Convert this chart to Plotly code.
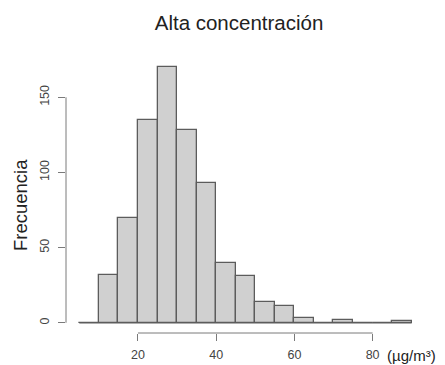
import plotly.graph_objects as go

# Histogram of concentration values (bin edges every 5 µg/m³)
bin_edges = [5, 10, 15, 20, 25, 30, 35, 40, 45, 50, 55, 60, 65, 70, 75, 80, 85, 90]
counts = [0, 32, 70, 135, 170, 128, 93, 40, 31, 14, 11, 3, 0, 2, 0, 0, 1]
x_ticks = [20, 40, 60, 80]
y_ticks = [0, 50, 100, 150]
title_text = "Alta concentración"
y_label = "Frecuencia"
unit_label = "(µg/m³)"

centers = [(a + b) / 2 for a, b in zip(bin_edges[:-1], bin_edges[1:])]
widths = [b - a for a, b in zip(bin_edges[:-1], bin_edges[1:])]

FONT = "Liberation Sans, Arial, sans-serif"
AXIS_COL = "#7a7a7a"
BAR_FILL = "#d0d0d0"
BAR_EDGE = "#5c5c5c"

fig = go.Figure()

# baseline under all bins (empty bins show as a flat line)
fig.add_trace(go.Scatter(
    x=[bin_edges[0], bin_edges[-1]], y=[0, 0], mode="lines",
    line=dict(color=BAR_EDGE, width=1.3), hoverinfo="skip", showlegend=False,
))

fig.add_trace(go.Bar(
    x=centers, y=counts, width=widths,
    marker=dict(color=BAR_FILL, line=dict(color=BAR_EDGE, width=1.3)),
    showlegend=False,
))

# padded ranges (4% on each side, like base R graphics)
xspan = bin_edges[-1] - bin_edges[0]
ymax = max(counts)
x_range = [bin_edges[0] - 0.04 * xspan, bin_edges[-1] + 0.04 * xspan]
y_range = [-0.04 * ymax, ymax * 1.04]

fig.update_layout(
    width=445, height=365,
    margin=dict(l=66, r=20, t=57, b=32, autoexpand=False),
    paper_bgcolor="white", plot_bgcolor="white",
    font=dict(family=FONT, color="#444444", size=13),
    bargap=0,
    title=dict(
        text=title_text, font=dict(family=FONT, size=20.5, color="#222222"),
        x=0.482, xref="paper", xanchor="center",
        y=1 - 23 / 365, yref="container", yanchor="middle",
        automargin=False,
    ),
    xaxis=dict(
        range=x_range, tickvals=x_ticks, ticktext=[str(v) for v in x_ticks],
        ticks="outside", ticklen=7, tickwidth=1, tickcolor=AXIS_COL,
        showline=False, showgrid=False, zeroline=False,
        ticklabelstandoff=3, automargin=False,
        tickfont=dict(size=12.5, color="#444444"),
    ),
    yaxis=dict(
        range=y_range, tickvals=y_ticks, ticktext=[str(v) for v in y_ticks],
        ticks="outside", ticklen=7, tickwidth=1, tickcolor=AXIS_COL,
        tickangle=-90,
        showline=False, showgrid=False, zeroline=False,
        ticklabelstandoff=4, automargin=False,
        tickfont=dict(size=12.5, color="#444444"),
    ),
    shapes=[
        dict(type="line", xref="paper", x0=0, x1=0, yref="y",
             y0=y_ticks[0], y1=y_ticks[-1], line=dict(color=AXIS_COL, width=1)),
        dict(type="line", yref="paper", y0=0, y1=0, xref="x",
             x0=x_ticks[0], x1=x_ticks[-1], line=dict(color=AXIS_COL, width=1)),
    ],
    annotations=[
        dict(text=y_label, xref="paper", yref="paper", x=0, y=0.5,
             xanchor="center", yanchor="middle", xshift=-46, yshift=-10,
             textangle=-90, showarrow=False,
             font=dict(family=FONT, size=18.5, color="#222222")),
        dict(text=unit_label, xref="x", yref="paper", x=x_ticks[-1], y=0,
             xanchor="left", yanchor="middle", xshift=12, yshift=-22,
             showarrow=False,
             font=dict(family=FONT, size=15, color="#222222")),
    ],
)

fig.write_html("out.html")
